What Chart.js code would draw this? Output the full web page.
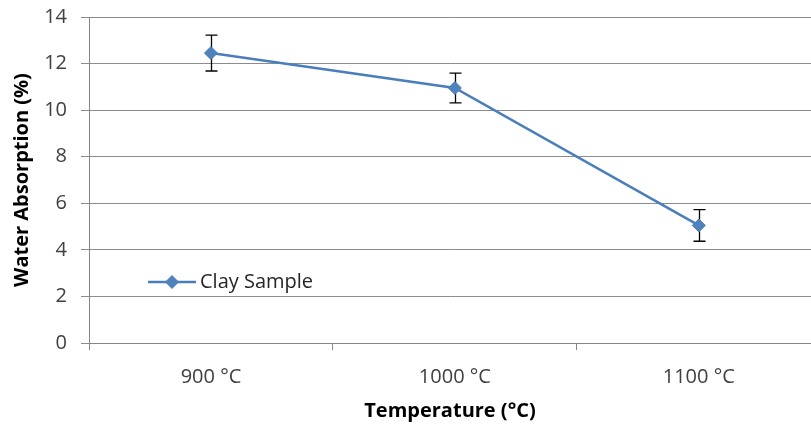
<!DOCTYPE html>
<html><head><meta charset="utf-8">
<script src="https://cdn.jsdelivr.net/npm/chart.js@4"></script>
<style>html,body{margin:0;padding:0;background:#fff}#wrap{width:811px;height:428px}</style>
</head><body><div id="wrap"><canvas id="c" width="811" height="428"></canvas></div>
<script>
const categories = ['900 °C', '1000 °C', '1100 °C'];
const absorption = [12.45, 10.95, 5.05];
const errorBars = [0.77, 0.64, 0.68];
const yTickValues = [0, 2, 4, 6, 8, 10, 12, 14];
const seriesName = 'Clay Sample';
const xTitle = 'Temperature (°C)';
const yTitle = 'Water Absorption (%)';

const FONT = 'Open Sans';
const FS = 20;
const LINE = '#4A7EBB';
const FILL = '#4F81BD';
const AXIS = '#868686';

const points = categories.map((c, i) => ({ x: i + 1, y: absorption[i], err: errorBars[i] }));
const xTickValues = [];
categories.forEach((c, i) => { xTickValues.push(i + 0.5, i + 1); });

const errorBarPlugin = {
  id: 'errorBars',
  beforeDatasetsDraw(chart) {
    const { ctx, scales: { x, y } } = chart;
    ctx.save();
    ctx.strokeStyle = '#000';
    ctx.lineWidth = 1.3;
    points.forEach(p => {
      const px = Math.round(x.getPixelForValue(p.x)) + 0.5;
      const top = y.getPixelForValue(p.y + p.err);
      const bot = y.getPixelForValue(p.y - p.err);
      ctx.beginPath();
      ctx.moveTo(px, top); ctx.lineTo(px, bot);
      ctx.moveTo(px - 6, top); ctx.lineTo(px + 6, top);
      ctx.moveTo(px - 6, bot); ctx.lineTo(px + 6, bot);
      ctx.stroke();
    });
    ctx.restore();
  }
};

const legendPlugin = {
  id: 'insideLegend',
  afterDraw(chart) {
    const { ctx, chartArea } = chart;
    const lx = chartArea.left + 59, ly = chartArea.top + 265;
    ctx.save();
    ctx.strokeStyle = LINE; ctx.lineWidth = 2.5;
    ctx.beginPath(); ctx.moveTo(lx, ly); ctx.lineTo(lx + 48, ly); ctx.stroke();
    ctx.fillStyle = FILL; ctx.strokeStyle = LINE; ctx.lineWidth = 1;
    ctx.beginPath();
    ctx.moveTo(lx + 24, ly - 6.5); ctx.lineTo(lx + 30.5, ly); ctx.lineTo(lx + 24, ly + 6.5); ctx.lineTo(lx + 17.5, ly); ctx.closePath();
    ctx.fill(); ctx.stroke();
    ctx.fillStyle = '#262626';
    ctx.font = FS + 'px "' + FONT + '"';
    ctx.textBaseline = 'middle';
    ctx.fillText(seriesName, lx + 52, ly);
    ctx.restore();
  }
};

new Chart(document.getElementById('c'), {
  type: 'line',
  data: {
    datasets: [{
      label: seriesName,
      data: points,
      borderColor: LINE,
      borderWidth: 2.5,
      backgroundColor: FILL,
      pointStyle: 'rectRot',
      pointRadius: 6.5,
      pointBorderWidth: 1,
      pointBorderColor: LINE,
      pointBackgroundColor: FILL,
      tension: 0
    }]
  },
  options: {
    responsive: false,
    animation: false,
    devicePixelRatio: 1,
    layout: { autoPadding: false, padding: { top: 17, right: 0, left: 0, bottom: 0 } },
    plugins: { legend: { display: false }, tooltip: { enabled: false } },
    scales: {
      x: {
        type: 'linear',
        min: 0.5,
        max: 3.46,
        afterBuildTicks(scale) { scale.ticks = xTickValues.map(v => ({ value: v })); },
        afterFit(scale) { scale.height = 85; scale.paddingLeft = 0; scale.paddingRight = 0; },
        ticks: {
          autoSkip: false, maxRotation: 0, padding: 15,
          color: '#404040', font: { family: FONT, size: FS },
          callback: v => Number.isInteger(v) ? categories[v - 1] : ''
        },
        grid: {
          drawOnChartArea: false, drawTicks: true, tickLength: 7,
          color: ctx => (ctx.tick && !Number.isInteger(ctx.tick.value)) ? AXIS : 'rgba(0,0,0,0)'
        },
        border: { display: true, color: AXIS, width: 1 },
        title: { display: true, text: xTitle, color: '#000', font: { family: FONT, size: FS, weight: 'bold' }, padding: { top: 0, bottom: 5 } }
      },
      y: {
        min: 0, max: 14,
        afterBuildTicks(scale) { scale.ticks = yTickValues.map(v => ({ value: v })); },
        afterFit(scale) { scale.width = 89; scale.paddingTop = 0; scale.paddingBottom = 0; },
        ticks: { color: '#404040', font: { family: FONT, size: FS }, padding: 14 },
        grid: { color: '#8c8c8c', tickLength: 8, drawTicks: true, lineWidth: 1 },
        border: { display: true, color: AXIS, width: 1 },
        title: { display: true, text: yTitle, color: '#000', font: { family: FONT, size: FS, weight: 'bold' }, padding: { top: 10, bottom: 0 } }
      }
    }
  },
  plugins: [errorBarPlugin, legendPlugin]
});
</script></body></html>
